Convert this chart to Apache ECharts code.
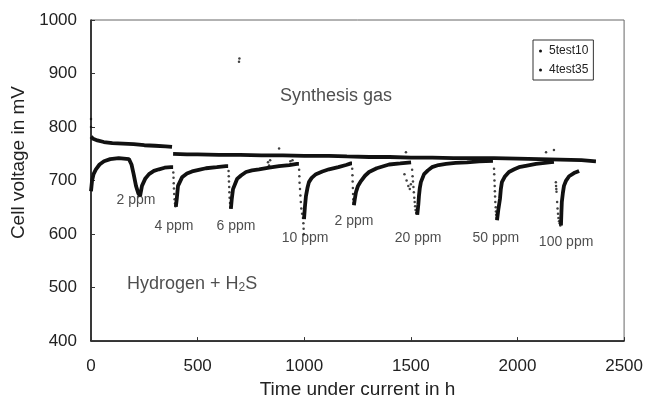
<!DOCTYPE html>
<html>
<head>
<meta charset="utf-8">
<script src="https://cdn.jsdelivr.net/npm/echarts@6/dist/echarts.min.js"></script>
<style>
html,body{margin:0;padding:0;background:#fff;}
#chart{width:646px;height:404px;}
</style>
</head>
<body>
<div id="chart"></div>
<script>
// ---- data (hours, mV) ----
const xTicks = [0, 500, 1000, 1500, 2000, 2500];
const yTicks = [400, 500, 600, 700, 800, 900, 1000];

// 5test10 : synthesis gas run
const syngasEarly = [[0,782],[10,778],[30,775],[60,772],[100,770],[150,769],[200,768],[250,766],[300,765],[350,764],[380,763]];
const syngasLate = [[385,750],[450,749],[500,749],[600,748],[700,748],[800,747],[900,747],[1000,746],[1116,746],[1200,745],[1304,744],[1400,744],[1500,743],[1600,743],[1700,742],[1890,742],[2000,741],[2100,740],[2200,739],[2300,738],[2368,736]];
const syngasOutliers = [[0,815],[0,800],[694,922],[696,928],[882,760],[1477,753],[2134,753],[2171,757]];

// 4test35 : hydrogen + H2S run, one segment per recovery
const h2sSeg1 = [[0,680],[5,700],[12,712],[23,721],[40,730],[61,736],[90,740],[130,742],[178,740],[190,730],[200,712],[211,690],[222,676],[230,671],[234,674],[239,690],[255,704],[272,712],[295,718],[319,721],[345,724],[375,725],[385,725]];
const h2sSeg2 = [[398,651],[402,665],[408,690],[427,706],[450,713],[474,717],[505,720],[539,723],[590,725],[633,727],[643,727]];
const h2sSeg3 = [[656,647],[660,665],[666,684],[685,703],[705,710],[727,716],[755,719],[788,721],[835,724],[882,727],[930,729],[966,731],[975,731]];
const h2sSeg4 = [[999,628],[1003,650],[1008,671],[1015,686],[1022,697],[1035,705],[1055,712],[1085,717],[1116,721],[1160,725],[1196,729],[1219,732],[1224,732]];
const h2sSeg5 = [[1233,654],[1237,665],[1243,679],[1252,690],[1266,699],[1285,709],[1304,716],[1340,723],[1398,730],[1450,732],[1501,734]];
const h2sSeg6 = [[1530,636],[1535,655],[1538,671],[1542,686],[1547,697],[1562,712],[1580,719],[1599,725],[1630,729],[1665,731],[1710,733],[1763,734],[1820,736],[1885,737]];
const h2sSeg7 = [[1904,626],[1910,645],[1918,666],[1922,684],[1927,697],[1940,707],[1960,716],[1985,721],[2007,725],[2045,728],[2087,731],[2148,734],[2171,735]];
const h2sSeg8 = [[2204,616],[2206,640],[2208,660],[2213,677],[2218,690],[2228,700],[2242,708],[2265,714],[2289,718]];
const h2sDrops = [
  [386,715],[387,705],[388,695],[389,685],[390,675],[392,665],[394,657],[396,652],
  [645,718],[646,708],[647,698],[648,688],[649,678],[650,668],[652,658],[654,650],
  [976,720],[977,708],[978,696],[980,684],[982,672],[984,660],[986,648],[990,638],[994,630],[996,620],[997,610],[998,600],
  [1225,722],[1226,710],[1227,698],[1228,686],[1229,675],[1230,665],[1231,658],
  [1470,712],[1480,700],[1488,690],[1495,684],[1500,693],
  [1506,720],[1508,708],[1510,698],[1512,688],[1514,678],[1516,668],[1518,660],[1520,652],[1522,645],[1525,640],[1528,638],
  [1890,722],[1891,712],[1892,700],[1893,690],[1894,680],[1895,670],[1896,660],[1898,650],[1899,642],[1900,636],[1902,630],
  [2180,697],[2181,690],[2182,684],[2183,679],[2186,660],[2188,648],[2190,638],[2192,630],[2195,624],[2198,620],[2201,616],
  [830,734],[840,738],[835,728],[935,736],[940,730],[945,738]
];

// annotations
const noteTexts = ['Synthesis gas', '2 ppm', '4 ppm', '6 ppm', '10 ppm', '2 ppm', '20 ppm', '50 ppm', '100 ppm'];
const noteHours = [1149, 211, 389, 680, 1004, 1233, 1534, 1899, 2228];
const noteMv = [857, 664, 614, 614, 593, 625, 593, 593, 584];
const h2sNote = {text: 'Hydrogen + H2S', hour: 474, mv: 506};

const FONT = '"Liberation Sans", Arial, Helvetica, sans-serif';
const INK = '#111';

const lineSeries = (name, data) => ({
  name: name, type: 'line', data: data, showSymbol: false, symbol: 'none',
  lineStyle: {color: INK, width: 3.8}, itemStyle: {color: INK},
  animation: false, silent: true, z: 3
});
const dotSeries = (name, data) => ({
  name: name, type: 'scatter', data: data, symbolSize: 2.5,
  itemStyle: {color: INK}, animation: false, silent: true, z: 3
});

const series = [
  lineSeries('5test10', syngasEarly),
  lineSeries('5test10', syngasLate),
  dotSeries('5test10', syngasOutliers),
  lineSeries('4test35', h2sSeg1),
  lineSeries('4test35', h2sSeg2),
  lineSeries('4test35', h2sSeg3),
  lineSeries('4test35', h2sSeg4),
  lineSeries('4test35', h2sSeg5),
  lineSeries('4test35', h2sSeg6),
  lineSeries('4test35', h2sSeg7),
  lineSeries('4test35', h2sSeg8),
  dotSeries('4test35', h2sDrops),
  {
    name: 'notes', type: 'scatter', symbolSize: 0, silent: true, animation: false,
    data: noteTexts.map((t, i) => ({name: t, value: [noteHours[i], noteMv[i]]})),
    label: {
      show: true, position: 'inside', formatter: p => p.name,
      fontFamily: FONT, color: '#222',
      fontSize: 14
    },
    labelLayout: {hideOverlap: false}
  },
  {
    name: 'h2snote', type: 'scatter', symbolSize: 0, silent: true, animation: false,
    data: [{name: h2sNote.text, value: [h2sNote.hour, h2sNote.mv]}],
    label: {
      show: true, position: 'inside',
      formatter: '{a|Hydrogen + H}{b|2}{a|S}',
      rich: {
        a: {fontFamily: FONT, fontSize: 18, color: '#222'},
        b: {fontFamily: FONT, fontSize: 12, color: '#222', verticalAlign: 'bottom', padding: [6, 0, 0, 0]}
      }
    }
  }
];
// bigger font for "Synthesis gas"
series[12].data[0].label = {fontSize: 18};

const chart = echarts.init(document.getElementById('chart'), null, {renderer: 'canvas'});
chart.setOption({
  backgroundColor: '#fff',
  animation: false,
  grid: {left: 91, right: 21, top: 20, bottom: 61, show: true, borderColor: '#666', borderWidth: 1, backgroundColor: 'transparent'},
  legend: {
    data: [{name: '5test10', icon: 'circle'}, {name: '4test35', icon: 'circle'}],
    orient: 'vertical', left: 533, top: 40,
    itemWidth: 3, itemHeight: 3, itemGap: 7,
    padding: [5, 5, 4, 6],
    borderColor: '#333', borderWidth: 1,
    textStyle: {fontFamily: FONT, fontSize: 12, color: '#222', padding: [0, 0, 0, 2]},
    selectedMode: false
  },
  xAxis: {
    type: 'value', min: xTicks[0], max: xTicks[xTicks.length - 1], interval: 500,
    name: 'Time under current in h', nameLocation: 'middle', nameGap: 36,
    nameTextStyle: {fontFamily: FONT, fontSize: 19, color: '#222'},
    axisLine: {show: true, lineStyle: {color: '#111', width: 1.5}},
    axisTick: {show: true, inside: true, length: 4, lineStyle: {color: '#333'}},
    axisLabel: {fontFamily: FONT, fontSize: 17, color: '#222', margin: 17, formatter: v => String(v)},
    splitLine: {show: false}
  },
  yAxis: {
    type: 'value', min: yTicks[0], max: yTicks[yTicks.length - 1], interval: 100,
    name: 'Cell voltage in mV', nameLocation: 'middle', nameGap: 62,
    nameTextStyle: {fontFamily: FONT, fontSize: 19, color: '#222', padding: [0, 0, 0, 36]},
    axisLine: {show: true, lineStyle: {color: '#111', width: 1.5}},
    axisTick: {show: true, inside: true, length: 4, lineStyle: {color: '#333'}},
    axisLabel: {fontFamily: FONT, fontSize: 17, color: '#222', margin: 14, formatter: v => String(v)},
    splitLine: {show: false}
  },
  series: series
});
</script>
</body>
</html>
